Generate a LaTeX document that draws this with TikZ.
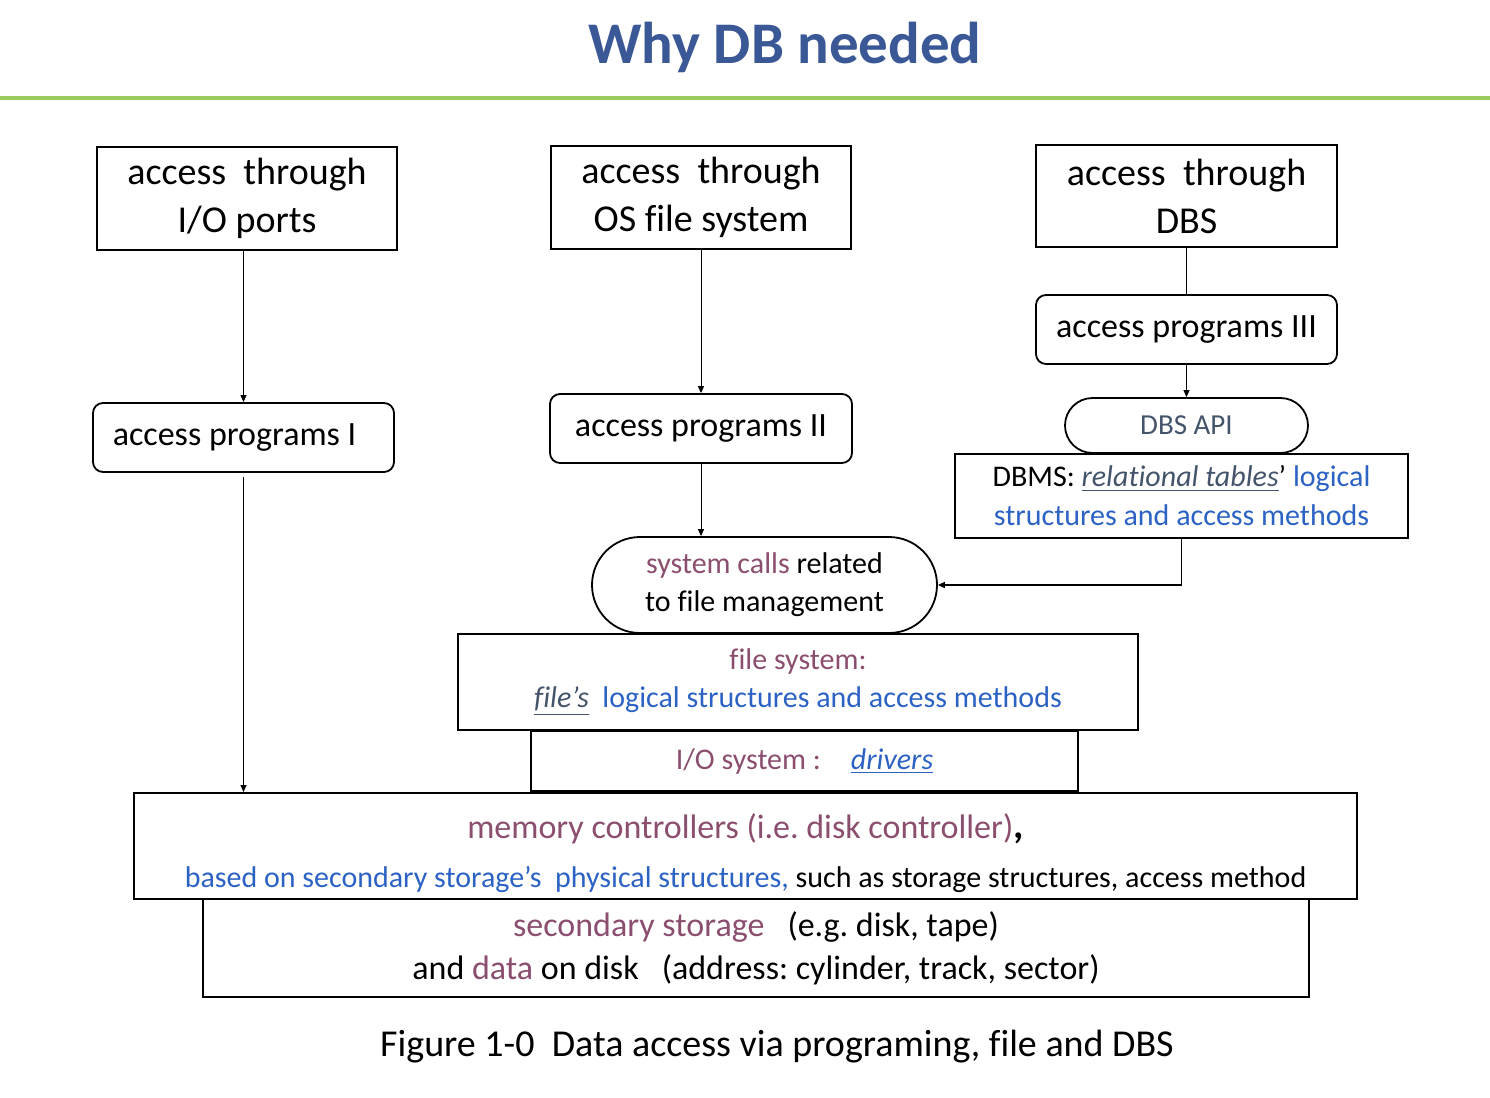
\documentclass[tikz,border=0pt]{standalone}
\usepackage{fontspec}
\setmainfont{Carlito}[Ligatures=NoCommon]
\usetikzlibrary{arrows.meta,positioning}
\definecolor{titleblue}{RGB}{58,87,150}
\definecolor{rulegreen}{RGB}{155,203,94}
\definecolor{plum}{RGB}{139,78,110}
\definecolor{linkblue}{RGB}{44,98,196}
\definecolor{slate}{RGB}{68,84,106}
\frenchspacing

\begin{document}
\begin{tikzpicture}[x=0.5pt,y=-0.5pt]
\tikzset{
  accessbox/.style={draw=black,line width=1pt,minimum width=150pt,minimum height=51.5pt,inner sep=0pt,align=center,font=\fontsize{19}{24}\selectfont},
  progbox/.style={draw=black,line width=0.9pt,rounded corners=5pt,minimum width=150.5pt,minimum height=34.5pt,inner sep=0pt,font=\fontsize{17}{20}\selectfont},
  pillbox/.style={draw=black,line width=0.9pt,inner sep=0pt,align=center},
  layerbox/.style={draw=black,line width=1pt,inner sep=0pt,align=center,font=\fontsize{15}{19}\selectfont},
  thinarrow/.style={draw=black,line width=0.5pt,-{Triangle[length=3.5pt,width=3pt]}},
  thickarrow/.style={draw=black,line width=0.9pt,-{Triangle[length=3.5pt,width=3pt]}},
  thickline/.style={draw=black,line width=0.9pt}
}
\useasboundingbox (0,0) rectangle (1490,1098);
\node[font=\fontsize{29.5}{32}\selectfont\bfseries,text=titleblue] (n_title) at (785,47) {Why DB needed};
\draw[rulegreen,line width=2pt] (0,98) -- (1490,98);
\node[accessbox] (n_ports) at (247,198.5) {access~ through\\I/O ports};
\node[accessbox] (n_osfs) at (701,197.5) {access~ through\\OS file system};
\node[accessbox,minimum width=150.5pt,minimum height=51pt] (n_dbs) at (1186.5,196) {access~ through\\DBS};
\node[progbox] (n_progI) at (243.5,437.5) {access programs I\kern9pt};
\node[progbox,minimum width=151pt] (n_progII) at (701,428.5) {access programs II};
\node[progbox] (n_progIII) at (1186.5,329.5) {access programs III};
\node[pillbox,rounded corners=13.75pt,minimum width=121.5pt,minimum height=27.5pt,text=slate,font=\fontsize{14.5}{17}\selectfont] (n_api) at (1186.5,425.5) {DBS API};
\node[layerbox,minimum width=226.5pt,minimum height=42pt,font=\fontsize{15}{19.5}\selectfont] (n_dbms) at (1181.5,496)
  {DBMS: \textcolor{slate}{\underline{\textit{relational tables}}}’ \textcolor{linkblue}{logical}\\\textcolor{linkblue}{structures and access methods}};
\node[pillbox,rounded corners=24pt,minimum width=172.5pt,minimum height=48pt,font=\fontsize{15}{19}\selectfont] (n_syscall) at (764.5,585)
  {\textcolor{plum}{system calls} related\\to file management};
\node[layerbox,minimum width=340pt,minimum height=48pt] (n_filesys) at (798,682)
  {\textcolor{plum}{file system:}\\\textcolor{slate}{\underline{\textit{file’s}}}~ \textcolor{linkblue}{logical structures and access methods}};
\node[layerbox,minimum width=273.5pt,minimum height=30pt] (n_iosys) at (804.5,761)
  {\textcolor{plum}{I/O system :}\quad\textcolor{linkblue}{\underline{\textit{drivers}}}};
\node[layerbox,minimum width=611.5pt,minimum height=53pt,font=\fontsize{15}{24.5}\selectfont] (n_memctl) at (745.5,846)
  {{\fontsize{17}{20}\selectfont\rule{0pt}{20pt}\textcolor{plum}{memory controllers (i.e. disk controller)}{\fontsize{20}{20}\selectfont\bfseries ,}}\\
   \textcolor{linkblue}{based on secondary storage’s~ physical structures,} such as storage structures, access method};
\node[layerbox,minimum width=553pt,minimum height=49pt,font=\fontsize{17}{21.5}\selectfont] (n_storage) at (756,948)
  {\textcolor{plum}{secondary storage}\ \ \ (e.g. disk, tape)\\and \textcolor{plum}{data} on disk\ \ \ (address: cylinder, track, sector)};
\node[font=\fontsize{19}{22}\selectfont] (n_caption) at (777,1047) {Figure 1-0~ Data access via programing, file and DBS};
\draw[thinarrow] (n_progI.north |- n_ports.south) -- (n_progI.north);
\draw[thinarrow,shorten <=2pt] (n_progI.south) -- (n_progI.south |- n_memctl.north);
\draw[thinarrow] (n_osfs.south) -- (n_progII.north);
\draw[thinarrow] (n_progII.south) -- (n_progII.south |- n_syscall.north);
\draw[thickline] (n_dbs.south) -- (n_progIII.north);
\draw[thinarrow] (n_progIII.south) -- (n_api.north);
\draw[thickarrow] (n_dbms.south) |- (n_syscall.east);
\end{tikzpicture}
\end{document}
